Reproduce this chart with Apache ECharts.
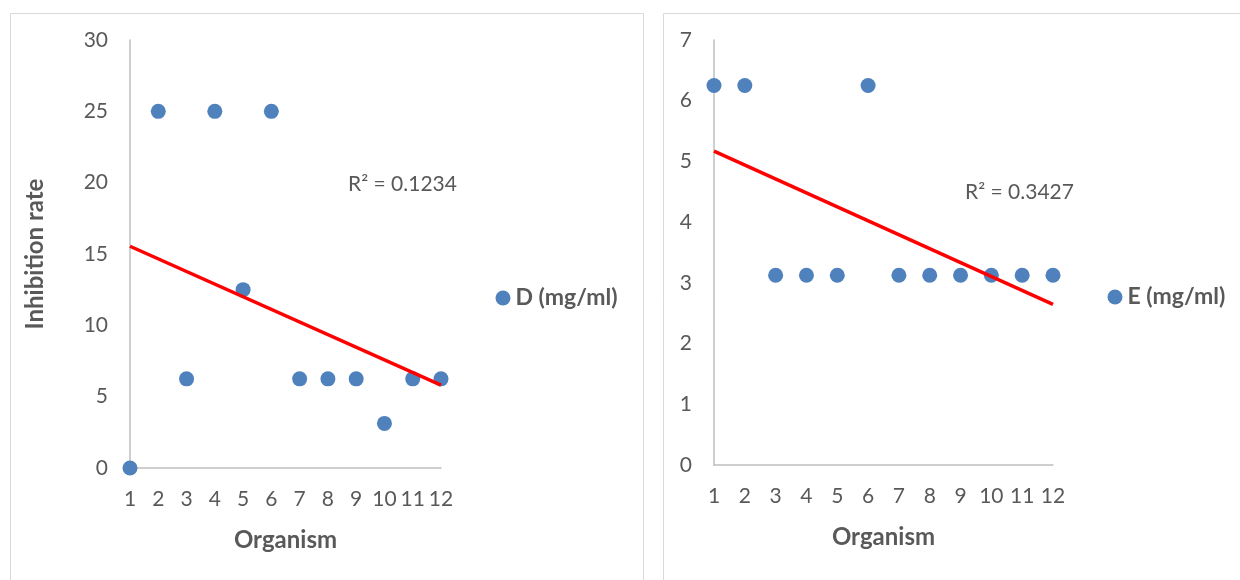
<!DOCTYPE html>
<html>
<head>
<meta charset="utf-8">
<script src="https://cdn.jsdelivr.net/npm/echarts@6/dist/echarts.min.js"></script>
<style>
html,body{margin:0;padding:0;background:#fff;}
#c{width:1240px;height:580px;}
</style>
</head>
<body>
<div id="c"></div>
<script>
const organisms = [1,2,3,4,5,6,7,8,9,10,11,12];
const seriesD = [0,25,6.25,25,12.5,25,6.25,6.25,6.25,3.125,6.25,6.25];
const seriesE = [6.25,6.25,3.125,3.125,3.125,6.25,3.125,3.125,3.125,3.125,3.125,3.125];
const nameD = 'D (mg/ml)';
const nameE = 'E (mg/ml)';
const r2D = 'R² = 0.1234';
const r2E = 'R² = 0.3427';
const yTicksD = {min:0, max:30, interval:5};
const yTicksE = {min:0, max:7, interval:1};

function fit(xs, ys){
  const n = xs.length;
  const mx = xs.reduce((a,b)=>a+b,0)/n, my = ys.reduce((a,b)=>a+b,0)/n;
  let sxy=0, sxx=0;
  for(let i=0;i<n;i++){sxy+=(xs[i]-mx)*(ys[i]-my);sxx+=(xs[i]-mx)*(xs[i]-mx);}
  const b = sxy/sxx, a = my-b*mx;
  const x0 = xs[0], x1 = xs[n-1];
  return [[x0,a+b*x0],[x1,a+b*x1]];
}

const txt = '#595959';
const axisCol = '#bfbfbf';
const dot = '#4f81bd';
const font = 'Lato, "Open Sans", sans-serif';

function xAx(gi){
  return {
    gridIndex: gi, type:'value', min:1, max:12, interval:1,
    name:'Organism', nameLocation:'middle', nameGap:60,
    nameTextStyle:{color:txt, fontSize:24, fontWeight:'bold', fontFamily:font},
    axisLine:{show:true, onZero:false, lineStyle:{color:axisCol, width:1.5}},
    axisTick:{show:false}, splitLine:{show:false},
    axisLabel:{color:txt, fontSize:21, fontFamily:font, margin:21}
  };
}
function yAx(gi, t, name){
  const o = {
    gridIndex: gi, type:'value', min:t.min, max:t.max, interval:t.interval,
    axisLine:{show:true, lineStyle:{color:axisCol, width:1.5}},
    axisTick:{show:false}, splitLine:{show:false},
    axisLabel:{color:txt, fontSize:21, fontFamily:font, margin:22}
  };
  if(name){
    o.name = name; o.nameLocation='middle'; o.nameGap=83; o.nameRotate=90;
    o.nameTextStyle = {color:txt, fontSize:24, fontWeight:'bold', fontFamily:font};
  }
  return o;
}

const chart = echarts.init(document.getElementById('c'), null, {renderer:'canvas'});
chart.setOption({
  backgroundColor:'#fff',
  animation:false,
  grid:[
    {left:130, top:40, width:311, height:428},
    {left:714, top:40, width:339, height:425}
  ],
  xAxis:[xAx(0), xAx(1)],
  yAxis:[yAx(0, yTicksD, 'Inhibition rate'), yAx(1, yTicksE, null)],
  legend:[
    {data:[nameD], left:490.5, top:281.5, icon:'circle', itemWidth:15, itemHeight:15, itemGap:4,
     textStyle:{color:txt, fontSize:23, fontWeight:'bold', fontFamily:font}},
    {data:[nameE], left:1102.5, top:280.5, icon:'circle', itemWidth:15, itemHeight:15, itemGap:4,
     textStyle:{color:txt, fontSize:23, fontWeight:'bold', fontFamily:font}}
  ],
  series:[
    {name:nameD, type:'scatter', xAxisIndex:0, yAxisIndex:0, symbolSize:15,
     itemStyle:{color:dot, opacity:1}, data:organisms.map((x,i)=>[x,seriesD[i]]), z:3},
    {name:'trendD', type:'line', xAxisIndex:0, yAxisIndex:0, symbol:'none',
     lineStyle:{color:'#ff0000', width:3.5}, data:fit(organisms, seriesD), z:4},
    {name:nameE, type:'scatter', xAxisIndex:1, yAxisIndex:1, symbolSize:15,
     itemStyle:{color:dot, opacity:1}, data:organisms.map((x,i)=>[x,seriesE[i]]), z:3},
    {name:'trendE', type:'line', xAxisIndex:1, yAxisIndex:1, symbol:'none',
     lineStyle:{color:'#ff0000', width:3.5}, data:fit(organisms, seriesE), z:4}
  ],
  graphic:[
    {type:'rect', shape:{x:10.5, y:13.5, width:633, height:600}, style:{fill:'none', stroke:'#d9d9d9', lineWidth:1}, z:-1},
    {type:'rect', shape:{x:663.5, y:13.5, width:600, height:600}, style:{fill:'none', stroke:'#d9d9d9', lineWidth:1}, z:-1},
    {type:'text', left:348, top:174, style:{text:r2D, fill:txt, font:'21px '+font}},
    {type:'text', left:965, top:182, style:{text:r2E, fill:txt, font:'21px '+font}}
  ]
});
</script>
</body>
</html>
